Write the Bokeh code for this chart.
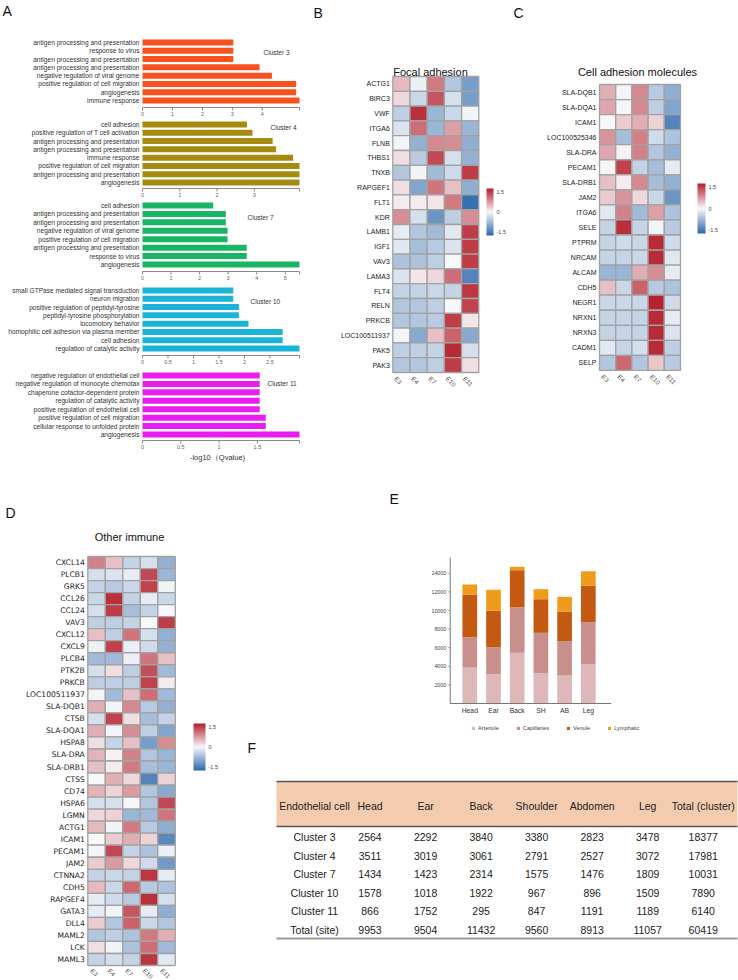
import math
from bokeh.plotting import figure
from bokeh.models import (Range1d, Label, ColorBar, LinearColorMapper, FixedTicker,
                          ColumnDataSource, Legend, LegendItem)
from bokeh.layouts import row, column
from bokeh.embed import file_html
from bokeh.resources import INLINE

FONT = "Liberation Sans"

# ---------------- Panel A data: GO enrichment (-log10 Qvalue) ----------------
c3_terms = ["antigen processing and presentation", "response to virus",
            "antigen processing and presentation", "antigen processing and presentation",
            "negative regulation of viral genome", "positive regulation of cell migration",
            "angiogenesis", "immune response"]
c3_vals = [3.03, 3.03, 3.03, 3.91, 4.32, 5.13, 5.13, 5.24]
c3_ticks = [0, 1, 2, 3, 4]

c4_terms = ["cell adhesion", "positive regulation of T cell activation",
            "antigen processing and presentation", "antigen processing and presentation",
            "immune response", "positive regulation of cell migration",
            "antigen processing and presentation", "angiogenesis"]
c4_vals = [2.80, 2.95, 3.49, 3.58, 4.04, 4.21, 4.21, 4.21]
c4_ticks = [0, 1, 2, 3]

c7_terms = ["cell adhesion", "antigen processing and presentation",
            "antigen processing and presentation", "negative regulation of viral genome",
            "positive regulation of cell migration", "antigen processing and presentation",
            "response to virus", "angiogenesis"]
c7_vals = [2.48, 2.92, 2.92, 2.98, 2.98, 3.65, 3.65, 5.50]
c7_ticks = [0, 1, 2, 3, 4, 5]

c10_terms = ["small GTPase mediated signal transduction", "neuron migration",
             "positive regulation of peptidyl-tyrosine", "peptidyl-tyrosine phosphorylation",
             "locomotory behavior", "homophilic cell adhesion via plasma member",
             "cell adhesion", "regulation of catalytic activity"]
c10_vals = [1.78, 1.78, 1.89, 1.89, 2.08, 2.75, 2.75, 3.08]
c10_ticks = [0, 0.5, 1, 1.5, 2, 2.5]

c11_terms = ["negative regulation of endothelial cell", "negative regulation of monocyte chemotax",
             "chaperone cofactor-dependent protein", "regulation of catalytic activity",
             "positive regulation of endothelial cell", "positive regulation of cell migration",
             "cellular response to unfolded protein", "angiogenesis"]
c11_vals = [1.53, 1.53, 1.53, 1.53, 1.53, 1.61, 1.61, 2.05]
c11_ticks = [0, 0.5, 1, 1.5]

# ---------------- Heatmap data (row z-scores) ----------------
hm_cols = ["E3", "E4", "E7", "E10", "E11"]

fa_genes = ["ACTG1", "BIRC3", "VWF", "ITGA6", "FLNB", "THBS1", "TNXB", "RAPGEF1", "FLT1", "KDR",
            "LAMB1", "IGF1", "VAV3", "LAMA3", "FLT4", "RELN", "PRKCB", "LOC100511937", "PAK5", "PAK3"]
fa_z = [
    [0.50, -0.10, 1.00, -0.60, -1.10],
    [0.25, -0.40, 1.30, -0.30, -1.10],
    [-0.50, 1.60, -0.80, -0.40, -0.05],
    [-0.25, 1.10, -0.80, 0.70, -0.80],
    [-0.05, -0.85, 0.90, 0.85, -0.90],
    [0.20, -0.55, 1.40, -0.30, -0.85],
    [-0.60, -0.05, -0.75, -0.35, 1.50],
    [0.20, -1.00, 1.05, 0.45, -0.90],
    [0.10, 0.10, 0.15, 1.00, -1.65],
    [0.85, -0.30, -1.20, -0.50, 0.85],
    [-0.15, -0.60, -0.75, -0.20, 1.50],
    [-0.20, -0.70, -0.55, -0.25, 1.50],
    [-0.65, -0.65, -0.50, 0.00, 1.50],
    [-0.25, 0.15, 0.25, 1.10, -1.40],
    [-0.45, -0.45, -0.40, -0.45, 1.55],
    [-0.60, -0.60, -0.50, 0.00, 1.45],
    [-0.60, -0.60, -0.55, 1.50, 0.15],
    [-0.05, -0.95, 0.45, 1.20, -0.95],
    [-0.50, -0.50, -0.45, 1.65, -0.30],
    [-0.60, -0.60, -0.50, 1.50, 0.20],
]

ca_genes = ["SLA-DQB1", "SLA-DQA1", "ICAM1", "LOC100525346", "SLA-DRA", "PECAM1", "SLA-DRB1",
            "JAM2", "ITGA6", "SELE", "PTPRM", "NRCAM", "ALCAM", "CDH5", "NEGR1", "NRXN1",
            "NRXN3", "CADM1", "SELP"]
ca_z = [
    [0.60, -0.05, 0.90, -0.55, -0.90],
    [0.65, -0.03, 0.90, -0.50, -1.00],
    [0.00, 0.35, 0.60, 0.30, -1.40],
    [0.80, -0.70, 0.95, -0.35, -0.65],
    [0.65, 0.05, 0.95, -0.60, -0.85],
    [-0.02, 1.45, -0.45, -0.70, -0.15],
    [0.45, 0.10, 0.90, -0.70, -0.85],
    [0.35, 0.80, 0.25, -0.40, -1.20],
    [-0.20, 0.95, -0.75, 0.70, -0.65],
    [-0.45, 1.60, -0.45, -0.05, -0.55],
    [-0.45, -0.35, -0.40, 1.65, -0.35],
    [-0.45, -0.45, -0.40, 1.65, -0.20],
    [-0.80, -0.80, 0.60, 0.85, -0.15],
    [0.45, -0.40, 1.20, -0.55, -0.65],
    [-0.40, -0.40, -0.40, 1.70, -0.35],
    [-0.45, -0.45, -0.45, 1.65, -0.15],
    [-0.45, -0.45, -0.45, 1.65, -0.25],
    [-0.20, -0.45, -0.30, 1.65, -0.50],
    [-0.60, 1.15, -0.60, 0.40, -0.55],
]

oi_genes = ["CXCL14", "PLCB1", "GRK5", "CCL26", "CCL24", "VAV3", "CXCL12", "CXCL9", "PLCB4",
            "PTK2B", "PRKCB", "LOC100511937", "SLA-DQB1", "CTSB", "SLA-DQA1", "HSPA8", "SLA-DRA",
            "SLA-DRB1", "CTSS", "CD74", "HSPA6", "LGMN", "ACTG1", "ICAM1", "PECAM1", "JAM2",
            "CTNNA2", "CDH5", "RAPGEF4", "GATA3", "DLL4", "MAML2", "LCK", "MAML3"]
oi_z = [
    [0.95, 0.45, -0.45, -0.30, -0.85],
    [-0.30, -0.25, -0.15, 1.40, -0.80],
    [-0.45, -0.55, -0.40, 1.45, -0.05],
    [-0.40, 1.60, -0.45, -0.15, -0.40],
    [-0.30, 1.50, -0.70, -0.45, 0.00],
    [-0.50, -0.50, -0.45, 0.00, 1.50],
    [0.45, -0.50, 1.05, -0.30, -0.85],
    [-0.10, 1.45, -0.10, -0.35, -0.85],
    [-0.75, -0.75, -0.10, 1.05, 0.45],
    [-0.30, 0.20, -0.50, 1.35, -0.75],
    [-0.50, -0.50, -0.50, 1.45, 0.10],
    [-0.05, -0.75, 0.45, 1.10, -0.75],
    [0.60, -0.03, 0.90, -0.55, -0.85],
    [-0.30, 1.45, 0.20, -0.70, -0.45],
    [0.60, -0.03, 0.85, -0.50, -1.00],
    [0.20, -0.45, 0.45, -1.10, 0.85],
    [0.55, 0.05, 0.95, -0.60, -0.80],
    [0.45, 0.10, 1.00, -0.70, -0.80],
    [0.00, 0.60, 0.25, -1.40, 0.30],
    [0.55, 0.30, 0.75, -0.60, -0.95],
    [-0.30, -0.30, -0.02, -0.60, 1.40],
    [0.25, 0.30, -0.80, -0.75, 1.05],
    [0.50, -0.05, 1.00, -0.55, -0.90],
    [0.00, 0.35, 0.60, 0.30, -1.35],
    [-0.03, 1.40, -0.45, -0.65, -0.10],
    [0.35, 0.75, 0.25, -0.35, -1.15],
    [-0.45, -0.40, -0.45, 1.55, -0.15],
    [0.50, -0.40, 1.15, -0.55, -0.65],
    [-0.15, -0.35, -0.55, 1.60, -0.30],
    [-0.15, -0.05, 1.30, -0.15, -0.90],
    [0.35, -0.60, 1.20, -0.40, -0.60],
    [-0.60, -0.50, -0.65, 1.00, 0.60],
    [0.20, -0.05, -0.65, 1.10, -0.75],
    [-0.45, -0.30, -0.45, 1.55, -0.20],
]

# ---------------- Panel E data ----------------
sites = ["Head", "Ear", "Back", "SH", "AB", "Leg"]
vessel_types = ["Arteriole", "Capillaries", "Venule", "Lymphatic"]
arteriole = [3870, 3150, 5450, 3260, 3010, 4230]
capillaries = [3260, 2900, 4900, 4340, 3660, 4510]
venule = [4560, 3920, 3980, 3610, 3220, 3910]
lymphatic = [1110, 2260, 370, 1080, 1580, 1570]
e_ticks = [2000, 4000, 6000, 8000, 10000, 12000, 14000]

# ---------------- Panel F data ----------------
tab_cols = ["Endothelial cell", "Head", "Ear", "Back", "Shoulder", "Abdomen", "Leg", "Total (cluster)"]
tab_rows = ["Cluster 3", "Cluster 4", "Cluster 7", "Cluster 10", "Cluster 11", "Total (site)"]
head_n = [2564, 3511, 1434, 1578, 866, 9953]
ear_n = [2292, 3019, 1423, 1018, 1752, 9504]
back_n = [3840, 3061, 2314, 1922, 295, 11432]
shoulder_n = [3380, 2791, 1575, 967, 847, 9560]
abdomen_n = [2823, 2527, 1476, 896, 1191, 8913]
leg_n = [3478, 3072, 1809, 1509, 1189, 11057]
total_n = [18377, 17981, 10031, 7890, 6140, 60419]


# ======================================================================
# Every figure is "full frame": no borders, its own data ranges chosen so that
# the panel lands at the wanted place of the page.
def base_fig(w, h, xr, yr):
    p = figure(width=w, height=h, min_border=0, x_range=xr, y_range=yr,
               x_axis_location=None, y_axis_location=None,
               output_backend="svg", toolbar_location=None)
    p.outline_line_color = None
    p.xgrid.visible = False
    p.ygrid.visible = False
    p.background_fill_color = "white"
    p.border_fill_color = "white"
    return p


def label(p, txt, x, y, size, color="#222222", align="left", font=FONT):
    p.add_layout(Label(x=x, y=y, x_units="screen", y_units="screen", text=txt,
                       text_font=font, text_font_size=size, text_color=color,
                       text_baseline="middle", text_align=align))


# ---------------- Panel A ----------------
A_X0, A_W = 0, 300          # page x of the column, its width
A_ZERO, A_END = 142, 299    # page x of value 0 and of the axis end


def go_plot(terms, vals, ticks, color, name, fig_top, fig_bot, row0, rh, axis_y, name_x, name_y):
    n = len(terms)
    vmax = max(vals)
    s = (A_END - A_ZERO) / vmax
    xr = Range1d((A_X0 - A_ZERO) / s, (A_X0 + A_W - A_ZERO) / s)
    yr = Range1d((fig_bot - row0) / rh, (fig_top - row0) / rh)
    p = base_fig(A_W, fig_bot - fig_top, xr, yr)
    idx = list(range(n))
    p.hbar(y=idx, left=0, right=vals, height=6.0 / rh, fill_color=color, line_color=None)
    p.text(x=[0] * n, y=idx, text=terms, x_offset=-3, text_align="right",
           text_baseline="middle", text_font={"value": FONT}, text_font_size="6.6px",
           text_color="#333333")
    ay = (axis_y - row0) / rh
    p.segment(x0=[0], x1=[vmax], y0=[ay], y1=[ay], line_color="#8a8a8a", line_width=1)
    tks = list(ticks) + [vmax]
    p.segment(x0=tks, x1=tks, y0=[ay] * len(tks), y1=[ay + 3.0 / rh] * len(tks),
              line_color="#8a8a8a", line_width=1)
    p.text(x=list(ticks), y=[ay] * len(ticks), text=["%g" % t for t in ticks], y_offset=4,
           text_align="center", text_baseline="top", text_font={"value": FONT},
           text_font_size="5.5px", text_color="#666666")
    label(p, name, name_x - A_X0, fig_bot - name_y, "6.5px", "#333333")
    return p


a3 = go_plot(c3_terms, c3_vals, c3_ticks, "#F9511E", "Cluster 3", 0, 118, 42, 8.29, 107, 263, 52)
a4 = go_plot(c4_terms, c4_vals, c4_ticks, "#A78A10", "Cluster 4", 118, 199, 124, 8.29, 188, 270, 127)
a7 = go_plot(c7_terms, c7_vals, c7_ticks, "#18B564", "Cluster 7", 199, 282, 205, 8.43, 271, 247, 217)
a10 = go_plot(c10_terms, c10_vals, c10_ticks, "#19B4D8", "Cluster 10", 282, 366, 290, 8.29, 355, 250, 301)
a11 = go_plot(c11_terms, c11_vals, c11_ticks, "#E81DEF", "Cluster 11", 366, 480, 375, 8.43, 440, 267, 383)
label(a11, "-log10（Qvalue)", 217 - A_X0, 480 - 457, "7.5px", "#333333", "center")
label(a3, "A", 2, 118 - 10, "14px", "#111111")


# ---------------- Heatmaps ----------------
def make_palette(n=256):
    lo = (44, 104, 172)
    mid = (248, 248, 250)
    hi = (180, 30, 42)
    pal = []
    for k in range(n):
        t = k / (n - 1)
        if t < 0.5:
            a, b, f = lo, mid, t / 0.5
        else:
            a, b, f = mid, hi, (t - 0.5) / 0.5
        c = tuple(int(round(a[i] + (b[i] - a[i]) * f)) for i in range(3))
        pal.append("#%02x%02x%02x" % c)
    return pal


PAL = make_palette()


def heatmap(genes, z, title, fx, fy, fw, fh, gx, gy, cw, rh, lab_font, lab_size,
            title_xy, cb_box, col_off):
    nr = len(genes)
    nc = len(hm_cols)
    xr = Range1d((fx - gx) / cw - 0.5, (fx + fw - gx) / cw - 0.5)
    yr = Range1d((fy + fh - gy) / rh - 0.5, (fy - gy) / rh - 0.5)
    p = base_fig(fw, fh, xr, yr)
    xs, ys, zs = [], [], []
    for i in range(nr):
        for j in range(nc):
            xs.append(j)
            ys.append(i)
            zs.append(z[i][j])
    mapper = LinearColorMapper(palette=PAL, low=-1.75, high=1.75)
    src = ColumnDataSource(dict(x=xs, y=ys, z=zs))
    p.rect(x="x", y="y", width=1, height=1, source=src,
           fill_color={"field": "z", "transform": mapper},
           line_color="#a2a2a2", line_width=1.3)
    p.text(x=[-0.5] * nr, y=list(range(nr)), text=genes, x_offset=-3, text_align="right",
           text_baseline="middle", text_font={"value": lab_font}, text_font_size=lab_size,
           text_color="#222222")
    p.text(x=list(range(nc)), y=[nr - 0.5] * nc, text=hm_cols, angle=-math.pi / 4,
           x_offset=col_off[0], y_offset=col_off[1], text_align="left", text_baseline="middle",
           text_font={"value": FONT}, text_font_size="6.3px", text_color="#555555")
    label(p, title, title_xy[0] - fx, fy + fh - title_xy[1], "11px", "#111111", "center")
    cbx, cby, cbw, cbh = cb_box
    cb = ColorBar(color_mapper=mapper, location=(cbx - fx, fy + fh - cby), width=cbw, height=cbh,
                  ticker=FixedTicker(ticks=[-1.5, 0, 1.5]),
                  major_label_overrides={-1.5: "-1.5", 0: "0", 1.5: "1.5"},
                  major_label_text_font=FONT, major_label_text_font_size="5.5px",
                  major_label_text_color="#444444", major_tick_line_color=None,
                  minor_tick_line_color=None, bar_line_color=None, border_line_color=None,
                  background_fill_alpha=0, padding=0, label_standoff=3)
    p.add_layout(cb)
    return p


# page coords: figure box, grid origin, cell size, title centre, colour-bar box (left, bottom, w, h)
pb = heatmap(fa_genes, fa_z, "Focal adhesion", 300, 0, 240, 480, 392.3, 76, 17.2, 14.8,
             FONT, "7px", (430, 71), (486, 235, 7, 47), (-6, 5))
label(pb, "B", 13, 480 - 12, "14px", "#111111")
label(pb, "C", 213, 480 - 12, "14px", "#111111")
pc = heatmap(ca_genes, ca_z, "Cell adhesion molecules", 540, 0, 198, 480, 599, 84, 16.2, 15.05,
             FONT, "7px", (637, 71), (697, 233, 8, 50), (-5, 5))
pd = heatmap(oi_genes, oi_z, "Other immune", 0, 480, 240, 500, 87.3, 556, 17.5, 12.03,
             "DejaVu Sans", "7.6px", (129, 536), (193, 770, 12, 47), (-5, 4))
label(pd, "D", 5, 980 - 512, "14px", "#111111")

# ---------------- Panel E ----------------
E_X, E_Y, E_W, E_H = 240, 480, 498, 255
e_bar0, e_step = 469.3, 23.7          # page x of first bar centre, bar spacing
e_base, e_scale = 703.0, 18.6 / 2000  # page y of value 0, px per unit
e_left = (449.7 - e_bar0) / e_step
e_right = (610.7 - e_bar0) / e_step
e_top = (e_base - 557.0) / e_scale
xr = Range1d((E_X - e_bar0) / e_step, (E_X + E_W - e_bar0) / e_step)
yr = Range1d(-(E_Y + E_H - e_base) / e_scale, (e_base - E_Y) / e_scale)
pe = base_fig(E_W, E_H, xr, yr)
e_src = ColumnDataSource(dict(x=list(range(len(sites))), Arteriole=arteriole,
                              Capillaries=capillaries, Venule=venule, Lymphatic=lymphatic))
vessel_colors = ["#DEB7B9", "#C98F8C", "#C45A12", "#EF9C1D"]
rs = pe.vbar_stack(vessel_types, x="x", width=0.62, color=vessel_colors, source=e_src,
                   line_color=None)
pe.segment(x0=[e_left, e_left], x1=[e_left, e_right], y0=[0, 0], y1=[e_top, 0],
           line_color="#777777", line_width=1)
pe.segment(x0=[e_left] * len(e_ticks), x1=[e_left - 2.0 / e_step] * len(e_ticks),
           y0=e_ticks, y1=e_ticks, line_color="#999999", line_width=1)
pe.text(x=[e_left] * len(e_ticks), y=e_ticks, text=[str(t) for t in e_ticks], x_offset=-4,
        text_align="right", text_baseline="middle", text_font={"value": FONT},
        text_font_size="5.3px", text_color="#444444")
pe.text(x=list(range(len(sites))), y=[0] * len(sites), text=sites, y_offset=3,
        text_align="center", text_baseline="top", text_font={"value": FONT},
        text_font_size="6.8px", text_color="#333333")
leg = Legend(items=[LegendItem(label=v, renderers=[r]) for v, r in zip(vessel_types, rs)],
             location=(444 - E_X + 27, E_Y + E_H - 731), orientation="horizontal",
             glyph_width=4, glyph_height=4,
             label_text_font=FONT, label_text_font_size="5.6px", label_text_color="#444444",
             label_standoff=3, spacing=17, padding=0, margin=0, label_height=6,
             label_width=0, border_line_color=None, background_fill_alpha=0)
pe.add_layout(leg)
label(pe, "E", 389 - E_X, E_Y + E_H - 498, "14px", "#111111")

# ---------------- Panel F: table ----------------
F_X, F_Y, F_W, F_H = 240, 735, 498, 245
t_col0, t_cstep = 314.0, 55.53   # page x of first column centre, column spacing
t_row0, t_rstep = 836.7, 18.5    # page y of first body row, row spacing
xr = Range1d((F_X - t_col0) / t_cstep, (F_X + F_W - t_col0) / t_cstep)
yr = Range1d((F_Y + F_H - t_row0) / t_rstep, (F_Y - t_row0) / t_rstep)
pf = base_fig(F_W, F_H, xr, yr)
ncol = len(tab_cols)
nrow = len(tab_rows)
t_left = (276 - t_col0) / t_cstep
t_right = (737 - t_col0) / t_cstep
h_top = (781 - t_row0) / t_rstep
h_bot = (826 - t_row0) / t_rstep
hdr_y = (805.3 - t_row0) / t_rstep
t_bot = (938 - t_row0) / t_rstep
pf.quad(left=[t_left], right=[t_right], top=[h_top], bottom=[h_bot],
        fill_color="#F3CBAF", line_color=None)
pf.segment(x0=[t_left, t_left], x1=[t_right, t_right], y0=[h_top, h_bot], y1=[h_top, h_bot],
           line_color="#555555", line_width=1.3)
pf.segment(x0=[t_left], x1=[t_right], y0=[t_bot], y1=[t_bot],
           line_color="#9a9a9a", line_width=2)
pf.text(x=list(range(ncol)), y=[hdr_y] * ncol, text=tab_cols, text_font={"value": FONT},
        text_font_size="10.5px", text_color="#222222", text_align="center",
        text_baseline="middle")
cols_data = [tab_rows, head_n, ear_n, back_n, shoulder_n, abdomen_n, leg_n, total_n]
tx, ty, tt = [], [], []
for j, colvals in enumerate(cols_data):
    for i, v in enumerate(colvals):
        tx.append(j)
        ty.append(i)
        tt.append(str(v))
pf.text(x=tx, y=ty, text=tt, text_font={"value": FONT}, text_font_size="10.5px",
        text_color="#222222", text_align="center", text_baseline="middle")
label(pf, "F", 247 - F_X, F_Y + F_H - 747, "14px", "#111111")

# ---------------- Layout ----------------
colA = column(a3, a4, a7, a10, a11, spacing=0)
top_row = row(colA, pb, pc, spacing=0)
colR = column(pe, pf, spacing=0)
bottom_row = row(pd, colR, spacing=0)
layout = column(top_row, bottom_row, spacing=0)

open("out.html", "w").write(file_html(layout, INLINE))
